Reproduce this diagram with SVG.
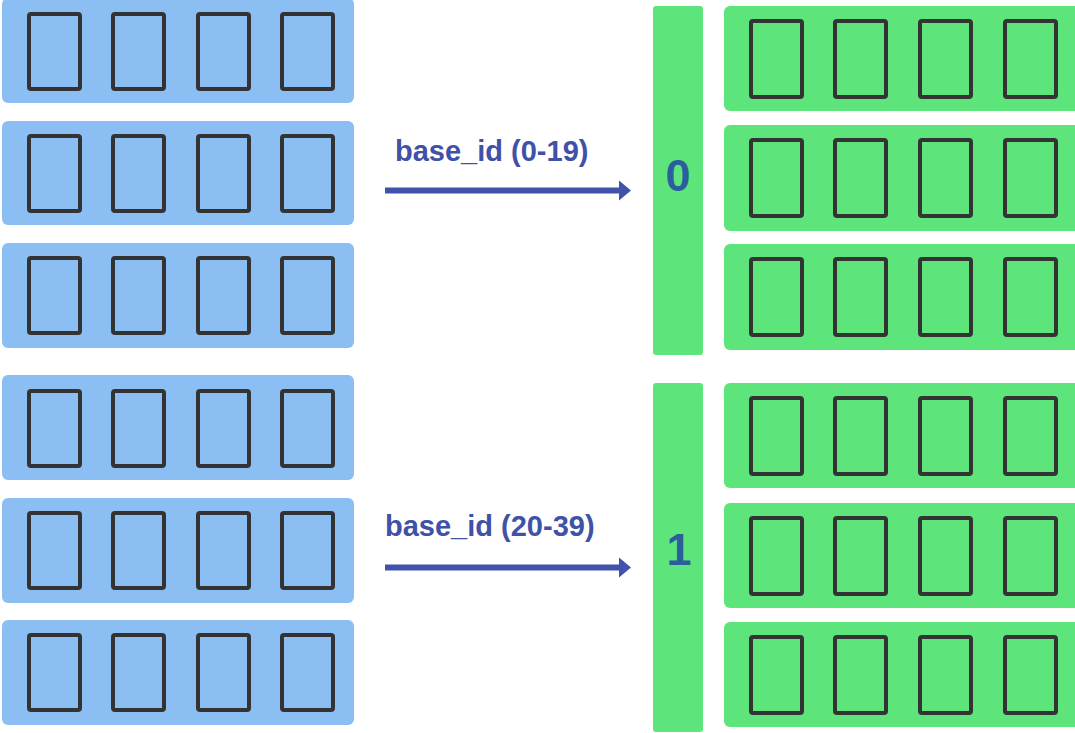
<svg xmlns="http://www.w3.org/2000/svg" xmlns:xlink="http://www.w3.org/1999/xlink" width="1075" height="733" viewBox="0 0 1075 733">
  <style>
    .blue { fill: #8bbff4; }
    .green { fill: #5de57b; }
    .cell { fill: none; stroke: #333333; stroke-width: 4; }
    .lbl { font-family: "Liberation Sans", Arial, sans-serif; font-weight: bold; font-size: 29px; fill: #4051a8; }
    .num { font-family: "Liberation Sans", Arial, sans-serif; font-weight: bold; font-size: 45px; fill: #2b5e9c; text-anchor: middle; }
    .arrow { stroke: #4152aa; stroke-width: 6; fill: none; }
  </style>
  <defs>
    <g id="bcells">
      <rect class="cell" x="29" y="0" width="51" height="75" rx="2"/>
      <rect class="cell" x="113" y="0" width="51" height="75" rx="2"/>
      <rect class="cell" x="198" y="0" width="51" height="75" rx="2"/>
      <rect class="cell" x="282" y="0" width="51" height="75" rx="2"/>
    </g>
    <g id="gcells">
      <rect class="cell" x="751" y="0" width="51" height="76" rx="2"/>
      <rect class="cell" x="835" y="0" width="51" height="76" rx="2"/>
      <rect class="cell" x="920" y="0" width="51" height="76" rx="2"/>
      <rect class="cell" x="1005" y="0" width="51" height="76" rx="2"/>
    </g>
    <marker id="ah" markerUnits="userSpaceOnUse" markerWidth="14" markerHeight="20" refX="0" refY="10" orient="auto" overflow="visible">
      <path d="M0,0 L12,10 L0,20 Z" fill="#4152aa"/>
    </marker>
  </defs>

  <g id="blue-1"><rect class="blue" x="2" y="-2" width="352" height="105" rx="6"/><use xlink:href="#bcells" y="14"/></g>
  <g id="blue-2"><rect class="blue" x="2" y="121" width="352" height="104" rx="6"/><use xlink:href="#bcells" y="136"/></g>
  <g id="blue-3"><rect class="blue" x="2" y="243" width="352" height="105" rx="6"/><use xlink:href="#bcells" y="258"/></g>
  <g id="blue-4"><rect class="blue" x="2" y="375" width="352" height="105" rx="6"/><use xlink:href="#bcells" y="391"/></g>
  <g id="blue-5"><rect class="blue" x="2" y="498" width="352" height="105" rx="6"/><use xlink:href="#bcells" y="513"/></g>
  <g id="blue-6"><rect class="blue" x="2" y="620" width="352" height="105" rx="6"/><use xlink:href="#bcells" y="635"/></g>

  <g id="bar-0"><rect class="green" x="653" y="6" width="50" height="349" rx="3"/><text class="num" x="678" y="191">0</text></g>
  <g id="bar-1"><rect class="green" x="653" y="383" width="50" height="349" rx="3"/><text class="num" x="679" y="565">1</text></g>

  <g id="green-1"><rect class="green" x="724" y="6" width="360" height="105" rx="6"/><use xlink:href="#gcells" y="21"/></g>
  <g id="green-2"><rect class="green" x="724" y="125" width="360" height="106" rx="6"/><use xlink:href="#gcells" y="140"/></g>
  <g id="green-3"><rect class="green" x="724" y="244" width="360" height="106" rx="6"/><use xlink:href="#gcells" y="259"/></g>
  <g id="green-4"><rect class="green" x="724" y="383" width="360" height="105" rx="6"/><use xlink:href="#gcells" y="398"/></g>
  <g id="green-5"><rect class="green" x="724" y="503" width="360" height="105" rx="6"/><use xlink:href="#gcells" y="518"/></g>
  <g id="green-6"><rect class="green" x="724" y="622" width="360" height="105" rx="6"/><use xlink:href="#gcells" y="637"/></g>

  <g id="connectors">
    <line class="arrow" x1="385" y1="190.5" x2="619" y2="190.5" marker-end="url(#ah)"/>
    <text class="lbl" x="395" y="161">base_id (0-19)</text>
    <line class="arrow" x1="385" y1="567.5" x2="619" y2="567.5" marker-end="url(#ah)"/>
    <text class="lbl" x="385" y="536">base_id (20-39)</text>
  </g>
</svg>
